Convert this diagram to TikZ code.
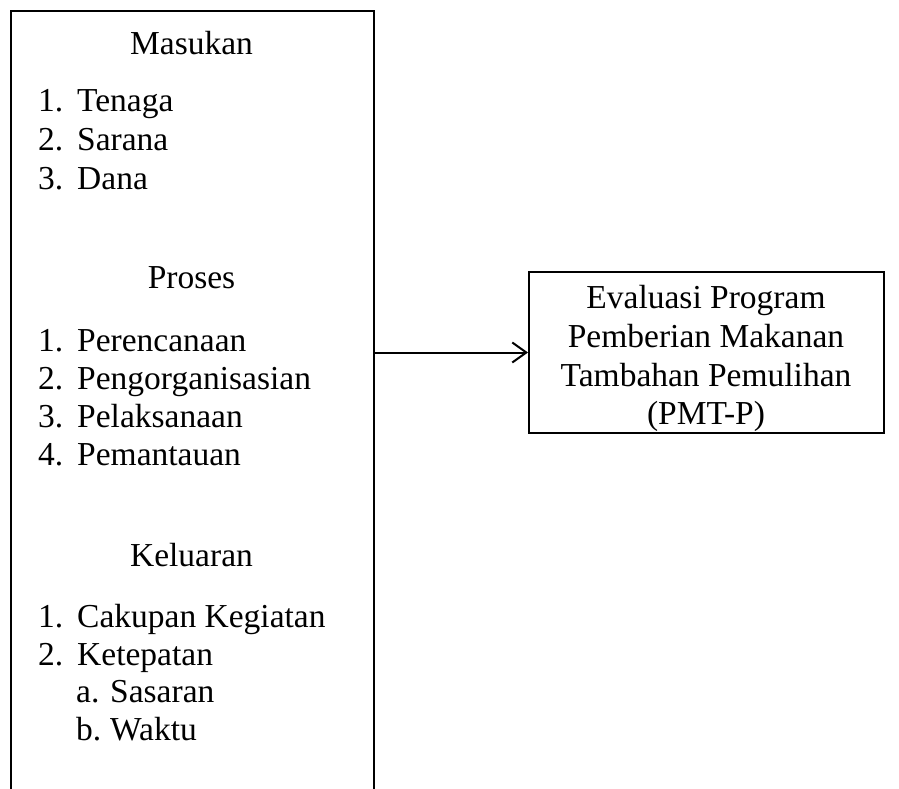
\documentclass[tikz,border=0pt]{standalone}
\usepackage{fontspec}
\setmainfont{Liberation Serif}
\usetikzlibrary{arrows.meta}
\begin{document}
\begin{tikzpicture}[x=1pt,y=-1pt,
  txt/.style={inner sep=0pt, font=\fontsize{33.5}{38.5}\selectfont},
  ttl/.style={txt, anchor=base},
  itm/.style={txt, anchor=base west},
  boxline/.style={draw, line width=2pt, rectangle, inner sep=0pt, anchor=north west},
  conn/.style={line width=2pt, -{Straight Barb[length=14pt,width=20pt,line width=2pt]}}]
\useasboundingbox (0,0) rectangle (899,789);
\clip (0,0) rectangle (899,789);
\newcommand{\numl}[1]{\makebox[39pt][l]{#1}}
\newcommand{\letl}[1]{\makebox[34pt][l]{#1}}
% left box (open at the bottom of the picture)
\node[boxline, minimum width=363pt, minimum height=820pt] (inbox) at (10,10) {};
\node[ttl] (masukan) at (191.5,55) {Masukan};
\node[itm] (m1) at (38,112) {\numl{1.}Tenaga};
\node[itm] (m2) at (38,150) {\numl{2.}Sarana};
\node[itm] (m3) at (38,189) {\numl{3.}Dana};
\node[ttl] (proses) at (191.5,288) {Proses};
\node[itm] (p1) at (38,351) {\numl{1.}Perencanaan};
\node[itm] (p2) at (38,389) {\numl{2.}Pengorganisasian};
\node[itm] (p3) at (38,427) {\numl{3.}Pelaksanaan};
\node[itm] (p4) at (38,465) {\numl{4.}Pemantauan};
\node[ttl] (keluaran) at (191.5,566) {Keluaran};
\node[itm] (k1) at (38,627) {\numl{1.}Cakupan Kegiatan};
\node[itm] (k2) at (38,665) {\numl{2.}Ketepatan};
\node[itm] (ka) at (76,702) {\letl{a.}Sasaran};
\node[itm] (kb) at (76,740) {\letl{b.}Waktu};
% right box
\node[boxline, minimum width=355pt, minimum height=161pt] (evalbox) at (528,271) {};
\node[ttl] (e1) at (706,308) {Evaluasi Program};
\node[ttl] (e2) at (706,347) {Pemberian Makanan};
\node[ttl] (e3) at (706,386) {Tambahan Pemulihan};
\node[ttl] (e4) at (706,424) {(PMT-P)};
% connector
\draw[conn] (inbox.east |- evalbox.west) -- (evalbox.west);
\end{tikzpicture}
\end{document}
